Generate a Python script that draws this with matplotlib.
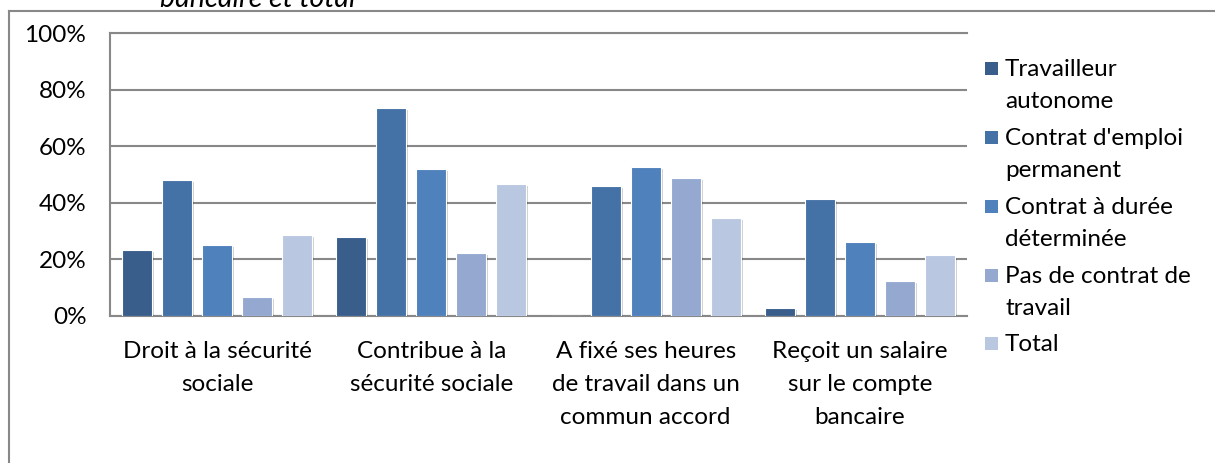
import numpy as np
import matplotlib
matplotlib.use("Agg")
import matplotlib.pyplot as plt
import matplotlib.patheffects as pe
from matplotlib.lines import Line2D
from matplotlib.patches import Rectangle

plt.rcParams['font.family'] = ['Lato', 'DejaVu Sans']

categories = ["Droit à la sécurité\nsociale",
              "Contribue à la\nsécurité sociale",
              "A fixé ses heures\nde travail dans un\ncommun accord",
              "Reçoit un salaire\nsur le compte\nbancaire"]
series = ["Travailleur\nautonome", "Contrat d'emploi\npermanent",
          "Contrat à durée\ndéterminée", "Pas de contrat de\ntravail", "Total"]
colors = ["#3A5E8C", "#4472A6", "#4F81BD", "#95A9D0", "#B9C7E1"]

autonome = [23.2, 27.9, 0.0, 2.7]
permanent = [48.1, 73.6, 45.8, 41.3]
duree_det = [25.2, 51.8, 52.7, 26.1]
sans_contrat = [6.7, 22.2, 48.9, 12.3]
total = [28.5, 46.8, 34.7, 21.4]
values = [autonome, permanent, duree_det, sans_contrat, total]

yticks = [0, 20, 40, 60, 80, 100]
ytick_labels = ["0%", "20%", "40%", "60%", "80%", "100%"]

W, H = 1215, 463
FS = 17.5
fig = plt.figure(figsize=(W/100, H/100), dpi=100)
ax = fig.add_axes([110/W, 1-316/H, (967-110)/W, (316-33)/H])

grid_c = "#888888"
x = np.arange(len(categories))
step, width = 0.1867, 0.14
shadow = [pe.SimplePatchShadow(offset=(1.5, -1.5), shadow_rgbFace="#000000", alpha=0.18), pe.Normal()]
for i, (vals, col) in enumerate(zip(values, colors)):
    bars = ax.bar(x + (i-2)*step, vals, width, color=col, edgecolor="white", linewidth=0.8, zorder=3)
    for b in bars:
        if b.get_height() > 0:
            b.set_path_effects(shadow)

ax.set_xlim(-0.5, 3.5)
ax.set_ylim(0, 100)
ax.set_yticks(yticks)
ax.set_yticklabels(ytick_labels, fontsize=FS)
ax.set_xticks(x)
ax.set_xticklabels(categories, fontsize=FS, linespacing=1.7)
ax.tick_params(axis='y', length=0, pad=17)
ax.tick_params(axis='x', length=0, pad=18)
ax.yaxis.grid(True, color=grid_c, linewidth=1.5, zorder=0)
ax.set_axisbelow(True)
ax.spines["right"].set_visible(False)
for s in ["left", "bottom", "top"]:
    ax.spines[s].set_color(grid_c)
    ax.spines[s].set_linewidth(1.5)

# legend drawn by hand: square aligned with first line of label
for k, (lab, col) in enumerate(zip(series, colors)):
    cy = 68.7 + k*68.8
    fig.add_artist(Rectangle((985/W, 1-(cy+6.5)/H), 13/W, 13/H, transform=fig.transFigure,
                             facecolor=col, edgecolor="none"))
    for j, line in enumerate(lab.split("\n")):
        fig.text(1005/W, 1-(cy+7.5+j*32)/H, line, fontsize=FS, va="baseline", ha="left")

# outer chart border and cut-off title
fig.add_artist(Line2D([9/W, 9/W], [0, 1-11/H], transform=fig.transFigure, color=grid_c, lw=1.5))
fig.add_artist(Line2D([9/W, 1], [1-11/H, 1-11/H], transform=fig.transFigure, color=grid_c, lw=1.5))
fig.text(160/W, 1-7/H, "bancaire et total", fontsize=20.5, style="italic", va="baseline")

fig.savefig("out.png", dpi=100)
